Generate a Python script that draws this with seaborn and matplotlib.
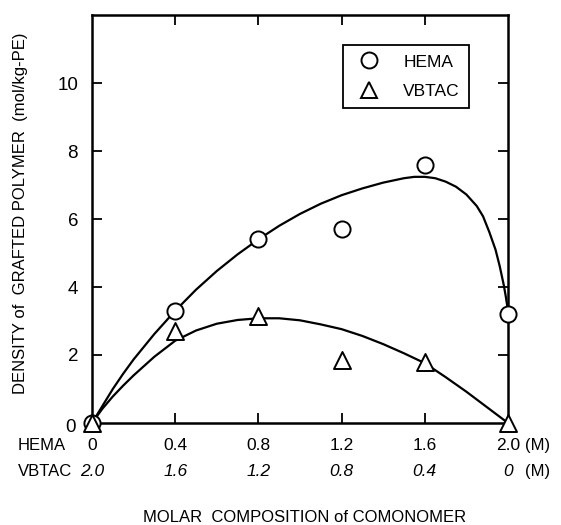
import matplotlib
matplotlib.use("Agg")
import matplotlib.pyplot as plt
from matplotlib.lines import Line2D
import seaborn as sns
import pandas as pd

# Measured grafting densities (mol/kg-PE) versus HEMA concentration (M)
hema_conc = [0.0, 0.4, 0.8, 1.2, 1.6, 2.0]
hema_density = [0.0, 3.3, 5.4, 5.7, 7.6, 3.2]
vbtac_density = [0.0, 2.7, 3.15, 1.85, 1.8, 0.0]

# Hand-drawn trend curves, read point by point
hema_curve_x = [0.0, 0.05, 0.1, 0.15, 0.2, 0.3, 0.4, 0.5, 0.6, 0.7, 0.8, 0.9,
                1.0, 1.1, 1.2, 1.3, 1.4, 1.5, 1.55, 1.6, 1.65, 1.7, 1.75,
                1.8, 1.85, 1.88, 1.91, 1.94, 1.96, 1.98, 1.99, 2.0]
hema_curve_y = [0.0, 0.5, 1.0, 1.45, 1.87, 2.62, 3.3, 3.92, 4.47, 4.96, 5.4,
                5.8, 6.15, 6.45, 6.7, 6.9, 7.07, 7.2, 7.24, 7.24, 7.2, 7.1,
                6.95, 6.72, 6.38, 6.08, 5.62, 5.1, 4.62, 4.05, 3.7, 3.3]
vbtac_curve_x = [0.0, 0.05, 0.1, 0.15, 0.2, 0.3, 0.4, 0.5, 0.6, 0.7, 0.8,
                 0.9, 1.0, 1.1, 1.2, 1.3, 1.4, 1.5, 1.6, 1.7, 1.8, 1.9, 2.0]
vbtac_curve_y = [0.0, 0.42, 0.78, 1.1, 1.4, 1.95, 2.42, 2.72, 2.92, 3.03,
                 3.08, 3.08, 3.02, 2.9, 2.76, 2.56, 2.32, 2.05, 1.76, 1.35,
                 0.92, 0.46, 0.0]

# Axis tick labels (two composition rows)
hema_ticks = ["0", "0.4", "0.8", "1.2", "1.6", "2.0"]
vbtac_ticks = ["2.0", "1.6", "1.2", "0.8", "0.4", "0"]
y_ticks = [0, 2, 4, 6, 8, 10]

sns.set_style("ticks")
plt.rcParams["font.family"] = ["Liberation Sans", "DejaVu Sans"]
plt.rcParams["text.color"] = "black"
plt.rcParams["axes.labelcolor"] = "black"

fig = plt.figure(figsize=(5.61, 5.25), dpi=100)
ax = fig.add_axes([0.164, 0.1943, 0.7415, 0.7771])

curves_h = pd.DataFrame({"x": hema_curve_x, "y": hema_curve_y})
curves_v = pd.DataFrame({"x": vbtac_curve_x, "y": vbtac_curve_y})
sns.lineplot(data=curves_h, x="x", y="y", ax=ax, color="black", lw=1.6,
             sort=False, estimator=None, clip_on=False)
sns.lineplot(data=curves_v, x="x", y="y", ax=ax, color="black", lw=1.6,
             sort=False, estimator=None, clip_on=False)

pts = pd.DataFrame({"x": hema_conc, "hema": hema_density, "vbtac": vbtac_density})
sns.scatterplot(data=pts, x="x", y="hema", ax=ax, marker="o", s=135,
                facecolor="white", edgecolor="black", linewidth=1.4,
                clip_on=False, zorder=5)
sns.scatterplot(data=pts, x="x", y="vbtac", ax=ax, marker="^", s=150,
                facecolor="white", edgecolor="black", linewidth=1.4,
                clip_on=False, zorder=5)

ax.set_xlim(0, 2.0)
ax.set_ylim(0, 12)

for s in ax.spines.values():
    s.set_visible(True)
    s.set_linewidth(1.8)
    s.set_color("black")

ax.set_xticks(hema_conc[1:-1])
ax.set_xticklabels([])
ax.set_yticks(y_ticks[1:])
ax.set_yticklabels([str(v) for v in y_ticks[1:]], fontsize=13.5)
ax.tick_params(axis="both", direction="in", length=7, width=1.3,
               top=True, right=True, colors="black")
ax.tick_params(axis="y", pad=10)
ax.text(-0.04, -0.01, "0", transform=ax.transAxes, fontsize=13.5,
        ha="right", va="center")

# Two rows of composition labels beneath the axis
xt = ax.get_xaxis_transform()
for xv, lab in zip(hema_conc, hema_ticks):
    ax.text(xv, -0.054, lab, transform=xt, fontsize=12.5, ha="center", va="center")
for xv, lab in zip(hema_conc, vbtac_ticks):
    ax.text(xv, -0.12, lab, transform=xt, fontsize=12.5, ha="center", va="center",
            style="italic")
ax.text(-0.178, -0.054, "HEMA", transform=ax.transAxes, fontsize=12,
        ha="left", va="center")
ax.text(-0.178, -0.12, "VBTAC", transform=ax.transAxes, fontsize=12,
        ha="left", va="center")
ax.text(1.072, -0.054, "(M)", transform=ax.transAxes, fontsize=12,
        ha="center", va="center")
ax.text(1.072, -0.12, "(M)", transform=ax.transAxes, fontsize=12,
        ha="center", va="center")

ax.set_xlabel("MOLAR  COMPOSITION of COMONOMER", fontsize=12)
ax.xaxis.set_label_coords(0.51, -0.213)
ax.xaxis.label.set_va("top")
ax.set_ylabel("DENSITY of  GRAFTED POLYMER  (mol/kg-PE)", fontsize=12)
ax.yaxis.set_label_coords(-0.154, 0.515)

handles = [
    Line2D([], [], ls="none", marker="o", ms=11.5, mfc="white", mec="black",
           mew=1.4),
    Line2D([], [], ls="none", marker="^", ms=12, mfc="white", mec="black",
           mew=1.4),
]
leg = ax.legend(handles, ["HEMA", "VBTAC"], loc="upper left",
                bbox_to_anchor=(0.603, 0.926), borderaxespad=0,
                fontsize=12.5, frameon=True, fancybox=False, framealpha=1,
                edgecolor="black", borderpad=0.53, handlelength=1.95,
                handletextpad=1.0, labelspacing=0.8)
leg.get_frame().set_linewidth(1.3)

fig.savefig("out.png", dpi=100, facecolor="white")
